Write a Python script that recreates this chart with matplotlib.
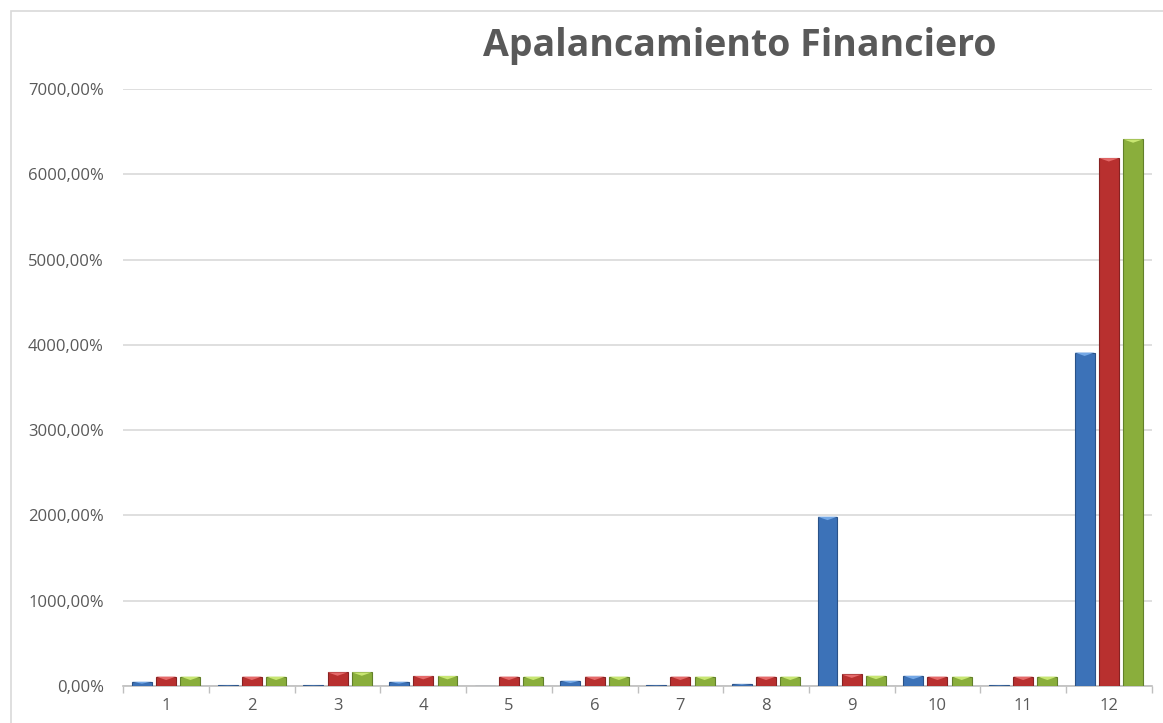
import matplotlib
matplotlib.use("Agg")
import matplotlib.pyplot as plt
import numpy as np
from matplotlib.ticker import FuncFormatter, FixedLocator
from matplotlib.patches import Rectangle

categories = ["1", "2", "3", "4", "5", "6", "7", "8", "9", "10", "11", "12"]
serie_azul = [50, 8, 8, 50, 0, 62, 8, 25, 1985, 120, 8, 3910]
serie_roja = [110, 110, 160, 118, 110, 110, 110, 110, 135, 110, 110, 6190]
serie_verde = [110, 110, 160, 118, 110, 110, 110, 110, 120, 110, 110, 6410]
y_ticks = [0, 1000, 2000, 3000, 4000, 5000, 6000, 7000]
title = "Apalancamiento Financiero"

W, H = 1163, 723
fig = plt.figure(figsize=(W / 100, H / 100), dpi=100)
fig.patch.set_facecolor("white")

# chart border
fig.patches.append(Rectangle((11 / W, -0.1), 1.2, 1 - 11 / H + 0.1, transform=fig.transFigure,
                             fill=False, edgecolor="#D9D9D9", linewidth=1.2))

ax = fig.add_axes([123.3 / W, 1 - 686 / H, (1151.7 - 123.3) / W, (686 - 89) / H])
x = np.arange(len(categories))
bw = 0.233
pitch = 0.283
series = [
    (serie_azul, "#3C72B8", "#2A5288", "#74A8E6"),
    (serie_roja, "#B8302F", "#872222", "#E56A6A"),
    (serie_verde, "#8AAE3C", "#62802A", "#C8E672"),
]
for i, (vals, col, edge, hi) in enumerate(series):
    bars = ax.bar(x + (i - 1) * pitch, vals, width=bw, color=col, edgecolor=edge,
                  linewidth=0.8, zorder=3)
    for b in bars:
        h = b.get_height()
        if h <= 0:
            continue
        bx, bwid = b.get_x(), b.get_width()
        cap = min(h * 0.45, 40)
        ax.fill([bx, bx + bwid, bx + bwid * 0.5], [h, h, h - cap], color=hi, zorder=4,
                linewidth=0)

ax.set_xlim(-0.5, len(categories) - 0.5)
ax.set_ylim(0, 7000)
ax.yaxis.set_major_locator(FixedLocator(y_ticks))
ax.yaxis.set_major_formatter(FuncFormatter(lambda v, p: f"{v:.2f}".replace(".", ",") + "%"))
ax.set_xticks(x)
ax.set_xticklabels(categories)
ax.set_xticks(np.arange(-0.5, len(categories), 1.0), minor=True)
ax.tick_params(axis="x", which="major", length=0, pad=9, labelsize=12, labelcolor="#595959")
ax.tick_params(axis="x", which="minor", length=5, color="#BFBFBF", width=1)
ax.tick_params(axis="y", length=0, pad=14, labelsize=12, labelcolor="#595959")
for lab in ax.get_xticklabels() + ax.get_yticklabels():
    lab.set_fontfamily("Open Sans")
ax.grid(axis="y", color="#D9D9D9", linewidth=1.2, zorder=0)
ax.set_axisbelow(True)
for s in ["left", "right", "top"]:
    ax.spines[s].set_visible(False)
ax.spines["bottom"].set_color("#BFBFBF")
ax.spines["bottom"].set_linewidth(1.2)

fig.text(740 / W, 1 - 46 / H, title, ha="center", va="center", fontsize=27,
         fontweight="bold", color="#595959", family="Open Sans")

fig.savefig("out.png", dpi=100)
